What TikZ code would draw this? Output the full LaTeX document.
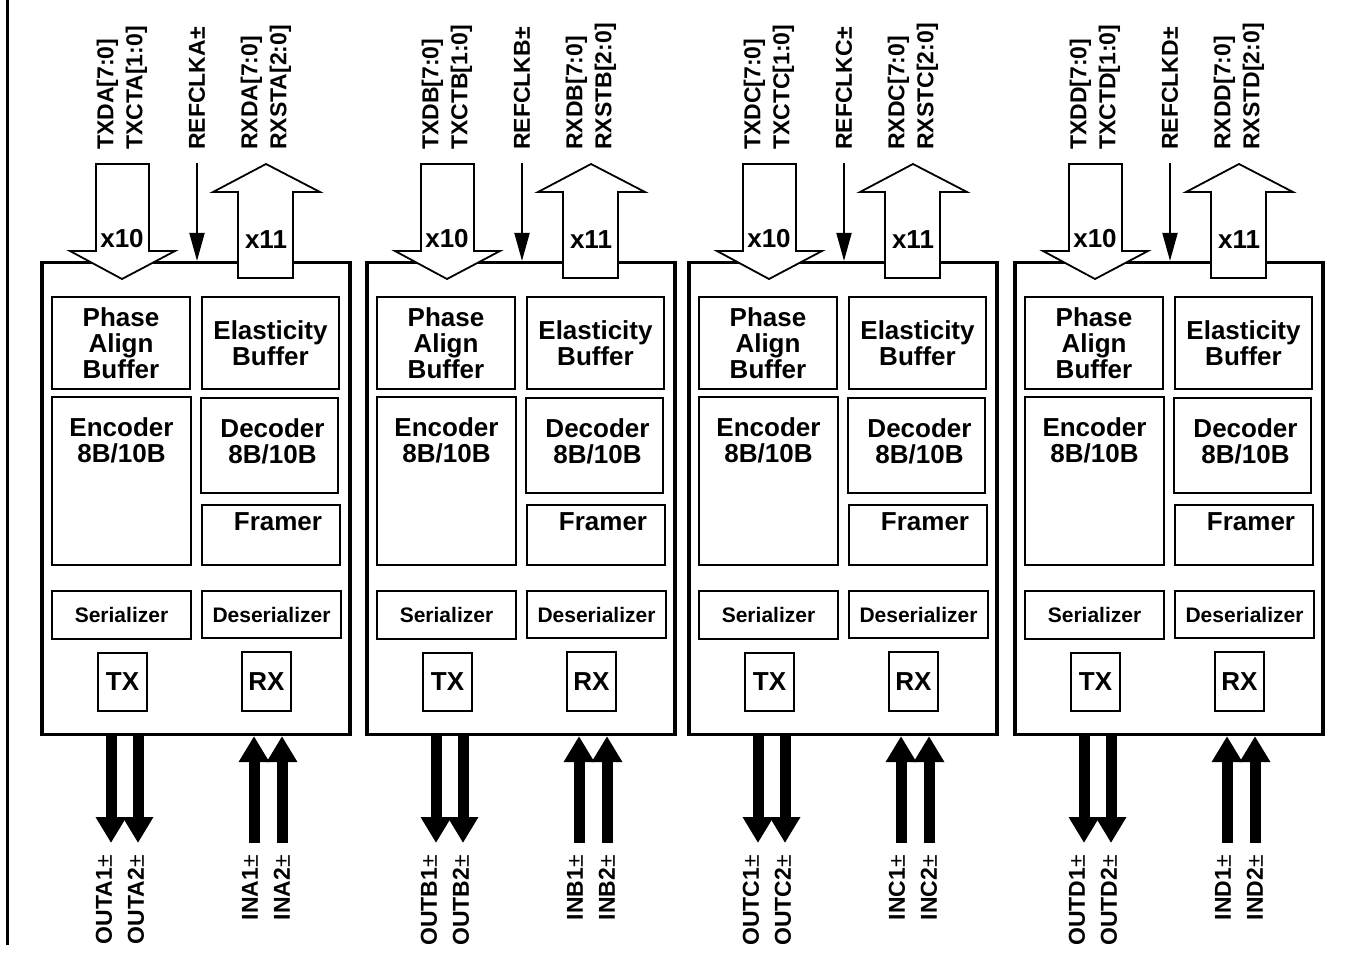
\documentclass[tikz,border=0pt]{standalone}
\usepackage{fontspec}
\setmainfont{Liberation Sans}
\usetikzlibrary{arrows.meta,positioning}

\begin{document}
\begin{tikzpicture}[x=1pt,y=-1pt,
    chip/.style={draw,line width=3.2pt,minimum width=308pt,minimum height=472pt},
    txt/.style={align=center,inner sep=0pt,font=\bfseries\fontsize{26}{26}\selectfont},
    unit/.style={txt,draw,line width=2.4pt},
    small/.style={unit,font=\bfseries\fontsize{21}{21}\selectfont},
    bus/.style={draw,fill=white,line width=1.8pt,line join=miter},
    sig/.style={font=\bfseries\fontsize{23}{29}\selectfont,rotate=90,align=left,inner sep=0pt,anchor=west},
    pin/.style={font=\bfseries\fontsize{23}{32}\selectfont,rotate=90,align=right,inner sep=0pt,anchor=east},
    clk/.style={line width=2pt,-{Triangle[length=28pt,width=15pt]}},
    lane/.style={line width=11pt,-{Triangle[length=26pt,width=29pt]}}]
  \useasboundingbox (0,0) rectangle (1351,954);
  \draw[line width=3pt] (7.5,0) -- (7.5,945);
  % one transceiver per channel
  \foreach \bx/\ch in {42/A,367/B,689/C,1015/D}{
    \begin{scope}[shift={(\bx,0)}]
      \node[chip] (box\ch) at (154,498.5) {};
      % transmit column
      \node[unit,minimum width=138pt,minimum height=92pt] (pab\ch) at (79,343) {Phase\\Align\\Buffer};
      \node[unit,minimum width=139pt,minimum height=168pt] (enc\ch) at (79.5,481) {};
      \node[txt,anchor=north] (encT\ch) at ([yshift=-22pt]enc\ch.north) {Encoder\\8B/10B};
      \node[small,minimum width=139pt,minimum height=48pt] (ser\ch) at (79.5,615) {Serializer};
      \node[unit,minimum width=49pt,minimum height=58pt] (tx\ch) at (80.5,682) {TX};
      % receive column
      \node[unit,minimum width=137pt,minimum height=92pt] (eb\ch) at (228.5,343) {Elasticity\\Buffer};
      \node[unit,minimum width=137pt,minimum height=95pt] (dec\ch) at (227.5,445.5) {};
      \node[txt,anchor=north] (decT\ch) at ([xshift=3pt,yshift=-22pt]dec\ch.north) {Decoder\\8B/10B};
      \node[unit,minimum width=138pt,minimum height=60pt] (frm\ch) at (229,535) {};
      \node[txt,anchor=north] (frmT\ch) at ([xshift=7pt,yshift=-9pt]frm\ch.north) {Framer};
      \node[small,minimum width=139pt,minimum height=47pt] (des\ch) at (229.5,614.5) {Deserializer};
      \node[unit,minimum width=49pt,minimum height=59pt] (rx\ch) at (224.5,681.5) {RX};
      % parallel buses
      \draw[bus] (54,164) -- (107,164) -- (107,251) -- (133,251) -- (80,279) -- (28,251) -- (54,251) -- cycle;
      \node[txt] (x10\ch) at (80,239) {x10};
      \draw[bus] (196,278) -- (196,192) -- (171,192) -- (224,164) -- (278,192) -- (251,192) -- (251,278) -- cycle;
      \node[txt] (x11\ch) at (224,240) {x11};
      \coordinate (clk\ch) at (155,163);
      \draw[clk] (clk\ch) -- (clk\ch |- box\ch.north);
      \node[sig] (txd\ch) at (80,150) {TXD\ch[7:0]\\TXCT\ch[1:0]};
      \node[sig] (ref\ch) at (155,150) {REFCLK\ch±};
      \node[sig] (rxd\ch) at (224,150) {RXD\ch[7:0]\\RXST\ch[2:0]};
      % serial lanes
      \coordinate (o1\ch) at (69,843);
      \coordinate (o2\ch) at (96,843);
      \coordinate (i1\ch) at (212,843);
      \coordinate (i2\ch) at (240,843);
      \draw[lane] (o1\ch |- box\ch.south) -- (o1\ch);
      \draw[lane] (o2\ch |- box\ch.south) -- (o2\ch);
      \draw[lane] (i1\ch) -- (i1\ch |- box\ch.south);
      \draw[lane] (i2\ch) -- (i2\ch |- box\ch.south);
      \node[pin] (out\ch) at (78,855) {OUT\ch1{\mdseries±}\\OUT\ch2{\mdseries±}};
      \node[pin] (in\ch) at (224,855) {IN\ch1{\mdseries±}\\IN\ch2{\mdseries±}};
    \end{scope}
  }
\end{tikzpicture}
\end{document}
